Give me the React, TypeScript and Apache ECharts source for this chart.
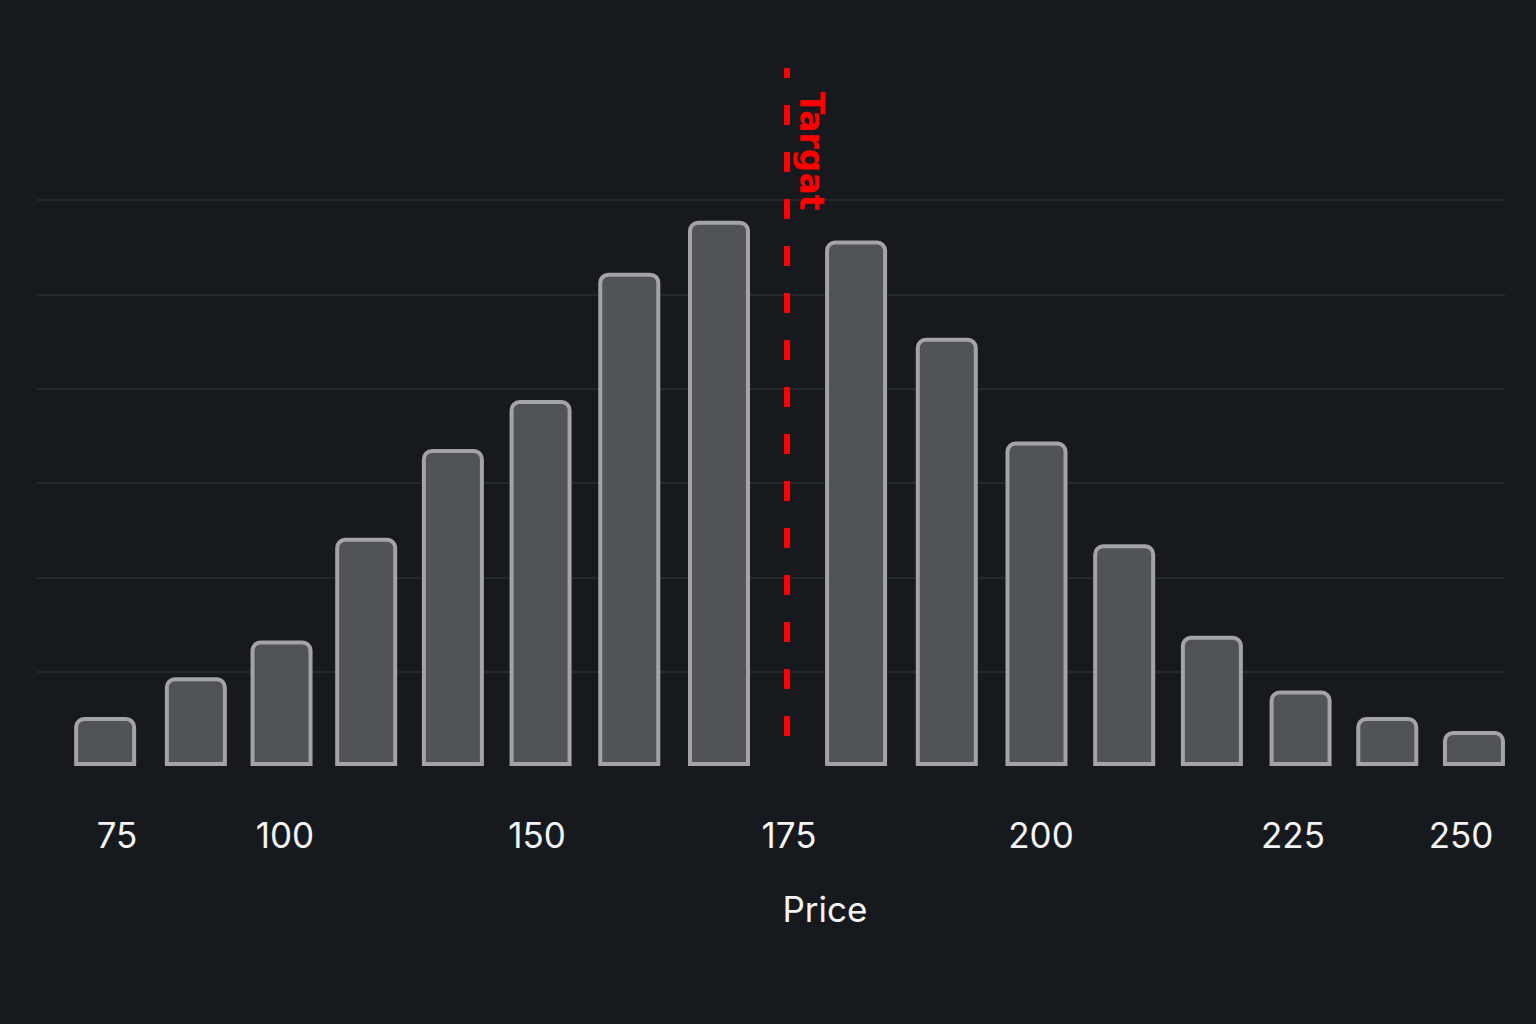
import { useEffect, useRef } from 'react';
import * as echarts from 'echarts';

// price bins (bar centres) and their heights
const binCenters = [107.4, 116.4, 124.9, 133.3, 141.9, 150.6, 159.4, 168.3, 181.9, 190.9, 199.8, 208.5, 217.2, 226.0, 234.6, 243.2];
const counts = [5.2, 9.4, 13.3, 24.2, 33.6, 38.8, 52.3, 57.8, 55.7, 45.4, 34.4, 23.5, 13.8, 8.0, 5.2, 3.7];
// bottom tick labels, one slot each
const tickLabels = ['75', '', '100', '', '', '150', '', '', '175', '', '', '200', '', '', '225', '', '250'];
const targetPrice = 175;
const targetLabel = 'Targat';
const xAxisName = 'Price';

const BG = '#161a1f';
const GRID = '#23282d';
const TEXT = '#f4f4f4';

export default function App() {
  const ref = useRef<HTMLDivElement>(null);

  useEffect(() => {
    if (!ref.current) return;
    const chart = echarts.init(ref.current, undefined, { renderer: 'svg' });

    chart.setOption({
      animation: false,
      backgroundColor: BG,
      grid: [
        { left: 37, right: 31, top: 68, bottom: 258 },
        { left: 75, right: 33, top: 68, bottom: 258 },
      ],
      xAxis: [
        { type: 'value', gridIndex: 0, min: 100.64, max: 246.28, show: false },
        {
          type: 'category',
          gridIndex: 1,
          data: tickLabels,
          axisLine: { show: false },
          axisTick: { show: false },
          splitLine: { show: false },
          axisLabel: {
            interval: 0,
            margin: 51,
            fontSize: 35,
            fontFamily: 'Inter',
            color: TEXT,
          },
        },
      ],
      yAxis: [
        {
          type: 'value',
          gridIndex: 0,
          min: 0,
          max: 74,
          interval: 10,
          axisLine: { show: false },
          axisTick: { show: false },
          axisLabel: { show: false },
          splitLine: {
            lineStyle: {
              width: 2,
              color: ['transparent', GRID, GRID, GRID, GRID, GRID, GRID, 'transparent', 'transparent'],
            },
          },
        },
        { type: 'value', gridIndex: 1, show: false },
      ],
      graphic: [
        {
          type: 'text',
          x: 825,
          y: 909,
          style: {
            text: xAxisName,
            fill: TEXT,
            fontSize: 35,
            fontFamily: 'Inter',
            textAlign: 'center',
            textVerticalAlign: 'middle',
          },
        },
      ],
      series: [
        {
          type: 'bar',
          xAxisIndex: 0,
          yAxisIndex: 0,
          barWidth: 62,
          data: binCenters.map((x, i) => [x, counts[i]]),
          itemStyle: {
            color: '#505458',
            borderColor: '#a2a4a7',
            borderWidth: 4,
            borderRadius: [8, 8, 0, 0],
          },
          emphasis: { disabled: true },
          markLine: {
            silent: true,
            symbol: ['none', 'none'],
            lineStyle: { color: '#ff0000', width: 6, type: [20, 27], dashOffset: 10 },
            label: {
              show: true,
              formatter: targetLabel,
              position: 'insideStartTop',
              distance: [24, 8],
              color: '#ff0000',
              fontWeight: 'bold',
              fontSize: 33,
              fontFamily: 'DejaVu Sans',
            },
            emphasis: { disabled: true },
            data: [[{ coord: [targetPrice, 74] }, { coord: [targetPrice, 2.8] }]],
          },
        },
      ],
    });

    return () => chart.dispose();
  }, []);

  return (
    <div
      ref={ref}
      style={{ position: 'absolute', left: 0, top: 0, width: 1536, height: 1024 }}
    />
  );
}
